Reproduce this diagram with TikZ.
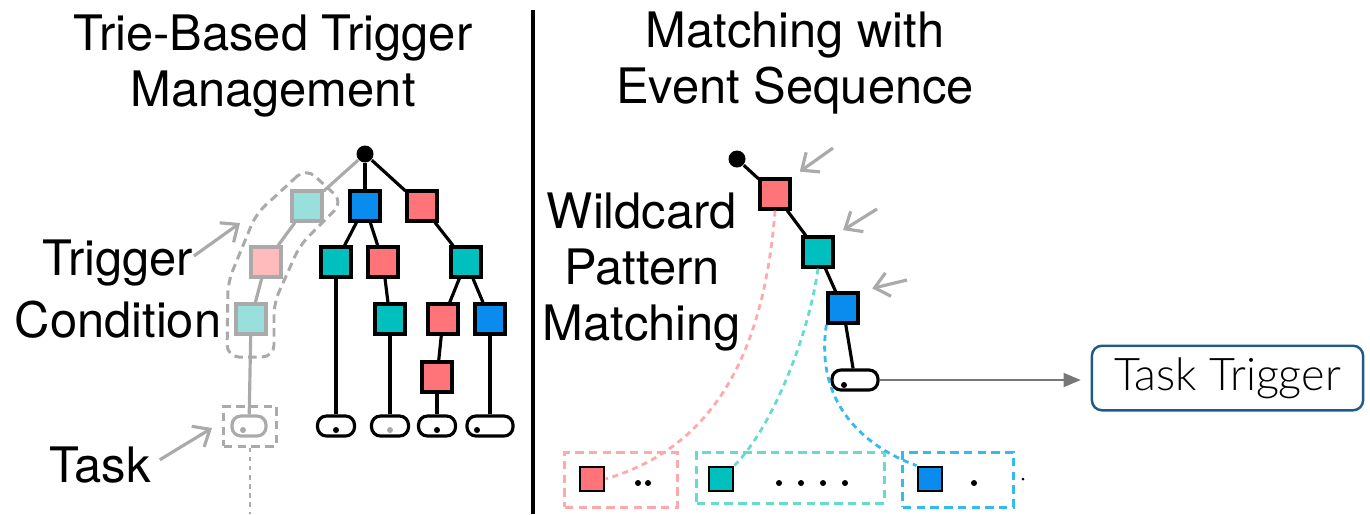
\documentclass[tikz,border=0pt]{standalone}
\usepackage{fontspec}
\setmainfont{TeX Gyre Heros}
\newfontfamily\gillfont{Lato Light}
\usetikzlibrary{arrows.meta}

\definecolor{cred}{HTML}{FF7478}
\definecolor{cteal}{HTML}{00BFBF}
\definecolor{cblue}{HTML}{0A8CEE}
\definecolor{fteal}{HTML}{99E0DD}
\definecolor{fred}{HTML}{FFBBBB}
\definecolor{fgray}{HTML}{AAAAAA}
\definecolor{dred}{HTML}{FFAAAA}
\definecolor{dteal}{HTML}{66DDCC}
\definecolor{dblue}{HTML}{33BBEE}
\definecolor{tblue}{HTML}{1F5A8A}

\begin{document}
\begin{tikzpicture}[
            x=0.01cm, y=-0.01cm,
            cell/.style={
                rectangle,
                draw,
                line width=0.9pt,
                minimum size=0.3cm,
                inner sep=0pt
            },
            faded/.style={cell, draw=fgray},
            leaf/.style={
                rectangle,
                draw,
                rounded corners=0.09cm,
                line width=0.9pt,
                minimum width=0.37cm,
                minimum height=0.2cm,
                inner sep=0pt
            },
            joint/.style={circle, fill, minimum size=0.17cm, inner sep=0pt},
            event/.style={cell, minimum size=0.24cm, line width=0.8pt},
            branch/.style={line width=0.9pt},
            hint/.style={->, >={Straight Barb[length=0.14cm, width=0.24cm]}, fgray, line width=0.9pt},
            seqbox/.style={rectangle, line width=0.85pt, dash pattern=on 2.4pt off 1.5pt, inner sep=0pt},
            link/.style={line width=0.8pt, dash pattern=on 1.7pt off 1.3pt},
            txt/.style={font=\fontsize{13.9}{16.2}\selectfont, align=center, inner sep=0pt}
        ]

            \useasboundingbox (0,0) rectangle (1370,514);

            % titles and divider
            \node[txt] (ttl) at (273,66) {Trie-Based Trigger\\Management};
            \node[txt] (ttr) at (795,63) {Matching with\\Event Sequence};
            \draw[line width=1pt] (533,10) -- (533,514);

            % trie
            \node[joint] (root) at (365,154) {};
            \node[cell, fill=cblue] (n1) at (365,206) {};
            \node[cell, fill=cred] (n2) at (422,206) {};
            \node[cell, fill=cteal] (n3) at (336,262) {};
            \node[cell, fill=cred] (n4) at (383,262) {};
            \node[cell, fill=cteal] (n5) at (466,262) {};
            \node[cell, fill=cteal] (n6) at (390,319) {};
            \node[cell, fill=cred] (n7) at (443,319) {};
            \node[cell, fill=cblue] (n8) at (490,319) {};
            \node[cell, fill=cred] (n9) at (437,377) {};

            \node[leaf] (k1) at (336,426) {};
            \node[leaf] (k2) at (390,426) {};
            \node[leaf] (k3) at (437,426) {};
            \node[leaf, minimum width=0.46cm] (k4) at (490,426) {};
            \fill (336,430) circle (0.03cm);
            \fill[fgray] (390,430) circle (0.03cm);
            \fill (437,430) circle (0.03cm);
            \fill (477,430) circle (0.03cm);

            \draw[branch] (root) -- (n1);
            \draw[branch] (root) -- (n2);
            \draw[branch] (n1) -- (n3);
            \draw[branch] (n1) -- (n4);
            \draw[branch] (n2) -- (n5);
            \draw[branch] (n3) -- (k1);
            \draw[branch] (n4) -- (n6);
            \draw[branch] (n6) -- (k2);
            \draw[branch] (n5) -- (n7);
            \draw[branch] (n5) -- (n8);
            \draw[branch] (n7) -- (n9);
            \draw[branch] (n9) -- (k3);
            \draw[branch] (n8) -- (k4);

            % faded trigger condition
            \node[faded, fill=fteal] (f1) at (307,206) {};
            \node[faded, fill=fred] (f2) at (266,262) {};
            \node[faded, fill=fteal] (f3) at (251,319) {};
            \node[leaf, draw=fgray, minimum width=0.34cm] (fk) at (249,426) {};
            \fill[fgray] (243,430) circle (0.03cm);

            \draw[branch, fgray] (root) -- (f1);
            \draw[branch, fgray] (f1) -- (f2);
            \draw[branch, fgray] (f2) -- (f3);
            \draw[branch, fgray] (f3) -- (fk);

            \draw[fgray, line width=0.85pt, dash pattern=on 2.4pt off 1.5pt, rounded corners=0.12cm]
                (306,168) -- (256,214) -- (228,282) -- (227,357) -- (274,357)
                -- (274,303) -- (300,245) -- (343,202) -- cycle;
            \node[seqbox, draw=fgray, minimum width=0.52cm, minimum height=0.4cm] (fkbox) at (250,426) {};
            \coordinate (fend) at (250,514);
            \draw[fgray, line width=0.8pt, dash pattern=on 1.3pt off 1.3pt] (fkbox.south) -- (fend);

            \node[txt] (trig) at (118,263) {Trigger};
            \node[txt] (cond) at (118,320) {Condition};
            \node[txt] (task) at (100,465) {Task};
            \coordinate (tc) at (240,223);
            \coordinate (tk) at (212,428);
            \draw[hint] ([yshift=2pt]trig.east) -- (tc);
            \draw[hint, shorten <=0.1cm] (task.east) -- (tk);

            % matching path
            \node[joint] (mroot) at (737,159) {};
            \node[cell, fill=cred] (m1) at (775,194) {};
            \node[cell, fill=cteal] (m2) at (818,252) {};
            \node[cell, fill=cblue] (m3) at (843,308) {};
            \node[leaf, minimum width=0.46cm] (mk) at (855,380) {};
            \fill (844,385) circle (0.03cm);

            \draw[branch] (mroot) -- (m1);
            \draw[branch] (m1) -- (m2);
            \draw[branch] (m2) -- (m3);
            \draw[branch] (m3) -- (mk);

            \coordinate (h1) at (833,148);
            \coordinate (h2) at (877,209);
            \coordinate (h3) at (907,280);
            \draw[hint, shorten >=0.1cm] (h1) -- (m1.north east);
            \draw[hint, shorten >=0.1cm] (h2) -- (m2.north east);
            \draw[hint, shorten >=0.13cm] (h3) -- (m3.north east);

            \node[txt, font=\fontsize{13.9}{15.8}\selectfont] (wild) at (642,272) {Wildcard\\Pattern\\Matching};

            % event sequence
            \node[seqbox, draw=dred, minimum width=1.12cm, minimum height=0.55cm] (w1) at (621,479.5) {};
            \node[seqbox, draw=dteal, minimum width=1.87cm, minimum height=0.51cm] (w2) at (790.5,477.5) {};
            \node[seqbox, draw=dblue, minimum width=1.10cm, minimum height=0.55cm] (w3) at (958,479.5) {};
            \node[event, fill=cred] (e1) at (592,479) {};
            \node[event, fill=cteal] (e2) at (721,479) {};
            \node[event, fill=cblue] (e3) at (930,479) {};
            \foreach \x in {638,648}
                \fill (\x,483) circle (0.03cm);
            \foreach \x in {779,801,823,845}
                \fill (\x,483) circle (0.03cm);
            \fill (974,483) circle (0.03cm);
            \fill (1023,479) circle (0.015cm);

            \draw[link, dred] (m1.south) .. controls (765,340) and (722,445) .. (e1.east);
            \draw[link, dteal] (m2.south) .. controls (808,340) and (770,430) .. (e2.north east);
            \draw[link, dblue] (m3.south west) .. controls (815,400) and (860,445) .. (e3.north west);

            % output
            \node[draw=tblue, line width=0.7pt, rounded corners=0.1cm, minimum width=2.71cm,
                minimum height=0.64cm, font=\gillfont\fontsize{12.8}{15}\selectfont] (tt) at (1227.5,378) {Task Trigger};
            \draw[-{Triangle[length=0.17cm, width=0.14cm]}, fgray!70!black, line width=0.4pt, shorten >=0.1cm]
                (mk.east) -- (mk.east -| tt.west);

        \end{tikzpicture}
\end{document}
